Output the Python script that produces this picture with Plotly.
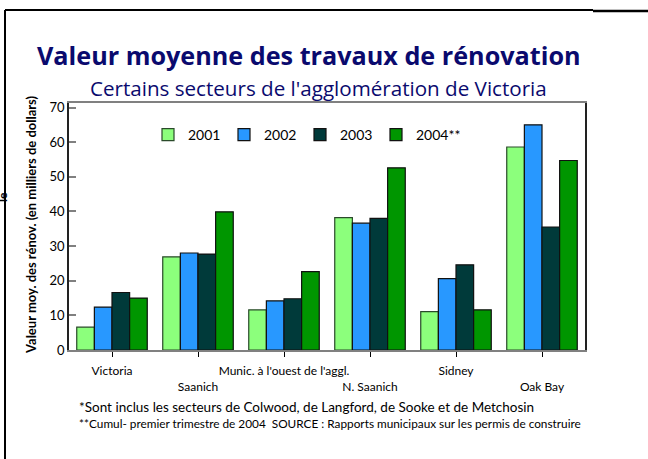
import plotly.graph_objects as go

categories = ["Victoria", "Saanich", "Munic. à l'ouest de l'aggl.", "N. Saanich", "Sidney", "Oak Bay"]
tick_labels = ["Victoria", "<br>Saanich", "Munic. à l'ouest de l'aggl.", "<br>N. Saanich", "Sidney", "<br>Oak Bay"]
series_names = ["2001", "2002", "2003", "2004**"]
v2001 = [6.6, 26.9, 11.6, 38.2, 11.1, 58.6]
v2002 = [12.4, 28.0, 14.2, 36.6, 20.6, 65.0]
v2003 = [16.6, 27.7, 14.8, 38.0, 24.6, 35.5]
v2004 = [15.0, 39.9, 22.6, 52.6, 11.6, 54.7]
y_ticks = [0, 10, 20, 30, 40, 50, 60, 70]

colors = ["#8CFF7C", "#2898FF", "#003A3A", "#009600"]
outlines = ["#2a4a2a", "#111111", "#111111", "#111111"]

FONT = "Lato"
TFONT = "Open Sans"
fig = go.Figure()
for name, vals, c, oc in zip(series_names, [v2001, v2002, v2003, v2004], colors, outlines):
    fig.add_trace(go.Bar(x=categories, y=vals, name=name,
                         marker=dict(color=c, line=dict(color=oc, width=1.2))))
# invisible spacer legend entry so the last label is not clipped
fig.add_trace(go.Scatter(x=[None], y=[None], mode="markers", name=" ",
                         marker=dict(size=0.1, color="rgba(0,0,0,0)",
                                     line=dict(width=0, color="rgba(0,0,0,0)")),
                         hoverinfo="skip"))

# plot-area pixel geometry
L, R, T, B = 69, 63, 103, 109
W, H = 648, 459
pw, ph = W - L - R, H - T - B


def px(x):
    return (x - L) / pw


def py(y):
    return (H - B - y) / ph


fig.update_layout(
    width=W, height=H,
    margin=dict(l=L, r=R, t=T, b=B, pad=0),
    paper_bgcolor="white", plot_bgcolor="white",
    barmode="group", bargap=0.18, bargroupgap=0,
    font=dict(family=FONT, color="black", size=12),
    showlegend=True,
    legend=dict(orientation="h", x=px(148), y=py(135), yanchor="middle", xanchor="left",
                font=dict(size=14, family=FONT), bgcolor="rgba(0,0,0,0)",
                itemwidth=30, traceorder="normal", entrywidth=31),
    xaxis=dict(tickmode="array", tickvals=categories, ticktext=tick_labels, tickangle=0,
               showline=True, linecolor="#808080", linewidth=2, mirror=True,
               ticks="outside", ticklen=5, tickcolor="black", tickwidth=1,
               ticklabelstandoff=4,
               tickfont=dict(size=12, family=FONT), showgrid=False, fixedrange=True),
    yaxis=dict(range=[0, 71.3], tickmode="array", tickvals=y_ticks,
               showline=True, linecolor="#222222", linewidth=1.5, mirror=True,
               ticks="inside", ticklen=7, tickcolor="#808080", tickwidth=1.5,
               tickfont=dict(size=13, family=FONT), showgrid=False, zeroline=False),
)

ann = [
    dict(text="<b>Valeur moyenne des travaux de rénovation</b>", x=px(309), y=py(55),
         font=dict(size=25.2, color="#0A0A6E", family=TFONT)),
    dict(text="Certains secteurs de l'agglomération de Victoria", x=px(318), y=py(88),
         font=dict(size=20.6, color="#0A0A6E", family=TFONT)),
    dict(text="<b>Valeur moy. des rénov. (en milliers de dollars)</b>", x=px(31), y=py(225),
         textangle=-90, font=dict(size=13, color="black", family=FONT)),
    dict(text="<b>le</b>", x=px(2), y=py(197), textangle=-90,
         font=dict(size=12, color="black", family=FONT)),
    dict(text="*Sont inclus les secteurs de Colwood, de Langford, de Sooke et de Metchosin",
         x=px(77), y=py(407), xanchor="left", font=dict(size=13.5, color="black", family=FONT)),
    dict(text="**Cumul- premier trimestre de 2004  SOURCE : Rapports municipaux sur les permis de construire",
         x=px(77), y=py(423), xanchor="left", font=dict(size=11.8, color="black", family=FONT)),
]
for a in ann:
    a.setdefault("xanchor", "center")
    a.update(xref="paper", yref="paper", yanchor="middle", showarrow=False)
    fig.add_annotation(**a)

shapes = [
    dict(type="line", x0=px(5), x1=px(5), y0=py(10), y1=py(460), line=dict(color="black", width=2)),
    dict(type="line", x0=px(5), x1=px(593), y0=py(10), y1=py(10), line=dict(color="black", width=2)),
    dict(type="line", x0=px(593), x1=px(650), y0=py(11), y1=py(11), line=dict(color="black", width=2.5)),
]
for s in shapes:
    s.update(xref="paper", yref="paper", layer="above")
    fig.add_shape(**s)

fig.write_html("out.html")
